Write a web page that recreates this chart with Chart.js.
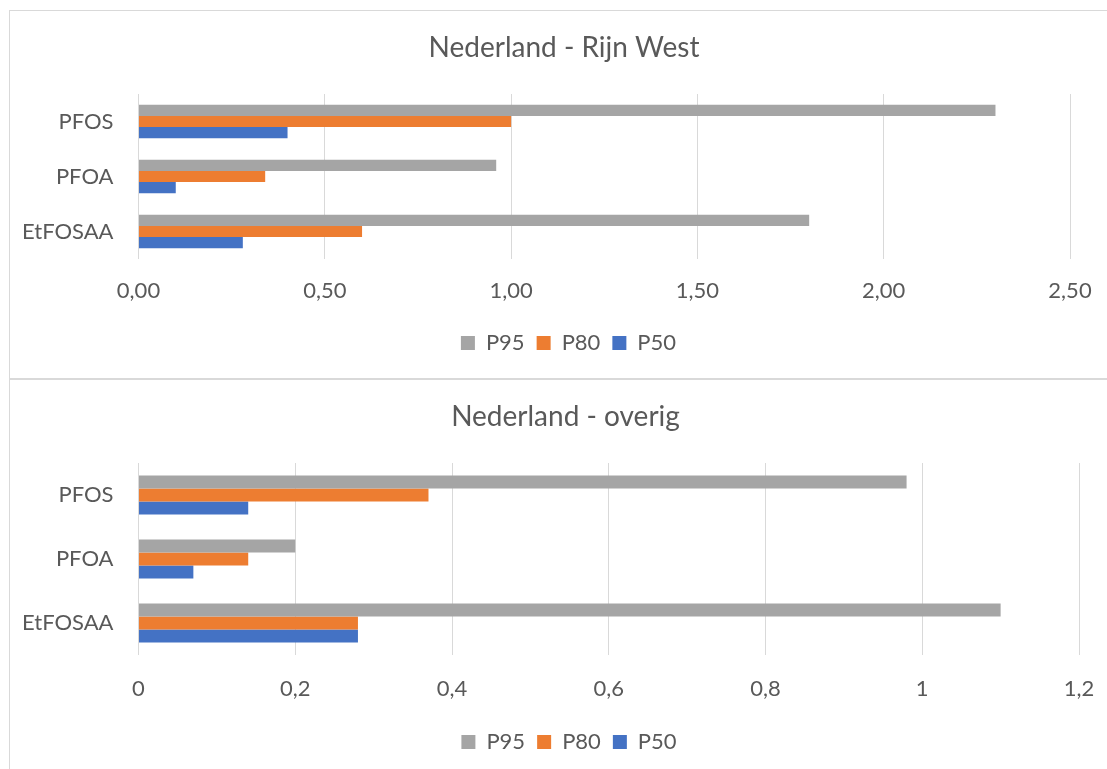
<!DOCTYPE html>
<html>
<head>
<meta charset="utf-8">
<script src="https://cdn.jsdelivr.net/npm/chart.js@4"></script>
<style>
  html, body { margin:0; padding:0; background:#fff; overflow:hidden; width:1107px; height:769px; }
  .frame { position:absolute; border:1px solid #d9d9d9; box-sizing:content-box; background:#fff; }
  #f1 { left:9px; top:10px; width:1200px; height:367px; }
  #f2 { left:9px; top:379px; width:1200px; height:420px; }
  canvas { position:absolute; left:0; top:0; }
</style>
</head>
<body>
<div class="frame" id="f1"><canvas id="c1" width="1097" height="367" style="width:1097px;height:367px"></canvas></div>
<div class="frame" id="f2"><canvas id="c2" width="1097" height="389" style="width:1097px;height:389px"></canvas></div>
<script>
// ---- data ----
const categories = ['PFOS', 'PFOA', 'EtFOSAA'];
const seriesNames = ['P95', 'P80', 'P50'];

const rijnWestP95 = [2.30, 0.96, 1.80];
const rijnWestP80 = [1.00, 0.34, 0.60];
const rijnWestP50 = [0.40, 0.10, 0.28];
const rijnWestTicks = ['0,00', '0,50', '1,00', '1,50', '2,00', '2,50'];

const overigP95 = [0.98, 0.20, 1.10];
const overigP80 = [0.37, 0.14, 0.28];
const overigP50 = [0.14, 0.07, 0.28];
const overigTicks = ['0', '0,2', '0,4', '0,6', '0,8', '1', '1,2'];

const colors = ['#A5A5A5', '#ED7D31', '#4472C4'];
const FONT = 'Lato';
const TEXT = '#595959';

// shifts title / legend horizontally so they are centred on given canvas x
const centerPlugin = {
  id: 'centerShift',
  afterLayout(chart, args, opts) {
    const shift = (box, cx) => {
      if (!box || cx == null) return;
      const d = cx - (box.left + box.right) / 2;
      box.left += d; box.right += d;
    };
    shift(chart.titleBlock, opts.titleX);
    shift(chart.legend, opts.legendX);
  }
};

function makeChart(id, title, series, ticks, max, step, geo) {
  const datasets = series.map((vals, i) => ({
    label: seriesNames[i],
    data: vals,
    backgroundColor: colors[i],
    borderWidth: 0,
    barPercentage: 1.0,
    categoryPercentage: 0.61
  }));
  const chart = new Chart(document.getElementById(id), {
    type: 'bar',
    data: { labels: categories, datasets },
    plugins: [centerPlugin],
    options: {
      indexAxis: 'y',
      responsive: false,
      animation: false,
      devicePixelRatio: 1,
      layout: { padding: { left: 0, right: geo.right, top: 0, bottom: geo.bottom } },
      plugins: {
        centerShift: { titleX: geo.titleX, legendX: geo.legendX },
        title: {
          display: true, text: title, color: TEXT,
          font: { family: FONT, size: 28, weight: 'normal', lineHeight: 1.2 },
          padding: { top: 20.2, bottom: 29.2 }
        },
        legend: {
          display: true, position: 'bottom',
          labels: {
            color: TEXT, boxWidth: 14, boxHeight: 14, padding: 12,
            font: { family: FONT, size: 22 }
          }
        },
        tooltip: { enabled: false }
      },
      scales: {
        x: {
          min: 0, max: max,
          ticks: {
            stepSize: step, color: TEXT, padding: 0,
            font: { family: FONT, size: 22 },
            callback: (v, i) => ticks[i]
          },
          grid: { color: '#d9d9d9', lineWidth: 1, drawTicks: true, tickLength: geo.xpad, tickColor: 'rgba(0,0,0,0)' },
          border: { display: false },
          afterFit: (s) => { s.height = geo.xh; }
        },
        y: {
          ticks: { color: TEXT, padding: 25, font: { family: FONT, size: 22 } },
          grid: { display: false, drawTicks: false },
          border: { display: false },
          afterFit: (s) => { s.width = 128.5; }
        }
      }
    }
  });
  // nudge right padding so the plot area ends where the reference's does
  for (let k = 0; k < 3; k++) {
    const diff = geo.plotRight - chart.chartArea.right;
    if (Math.abs(diff) < 0.2) break;
    chart.options.layout.padding.right = Math.max(0, chart.options.layout.padding.right - diff);
    chart.update('none');
  }
  return chart;
}

makeChart('c1', 'Nederland - Rijn West', [rijnWestP95, rijnWestP80, rijnWestP50], rijnWestTicks, 2.5, 0.5,
  { right: 37, bottom: 14, xh: 61, xpad: 19, titleX: 554, legendX: 558.5, plotRight: 1060 });
makeChart('c2', 'Nederland - overig', [overigP95, overigP80, overigP50], overigTicks, 1.2, 0.2,
  { right: 28, bottom: 6, xh: 64, xpad: 21, titleX: 555.5, legendX: 559, plotRight: 1069 });
</script>
</body>
</html>
